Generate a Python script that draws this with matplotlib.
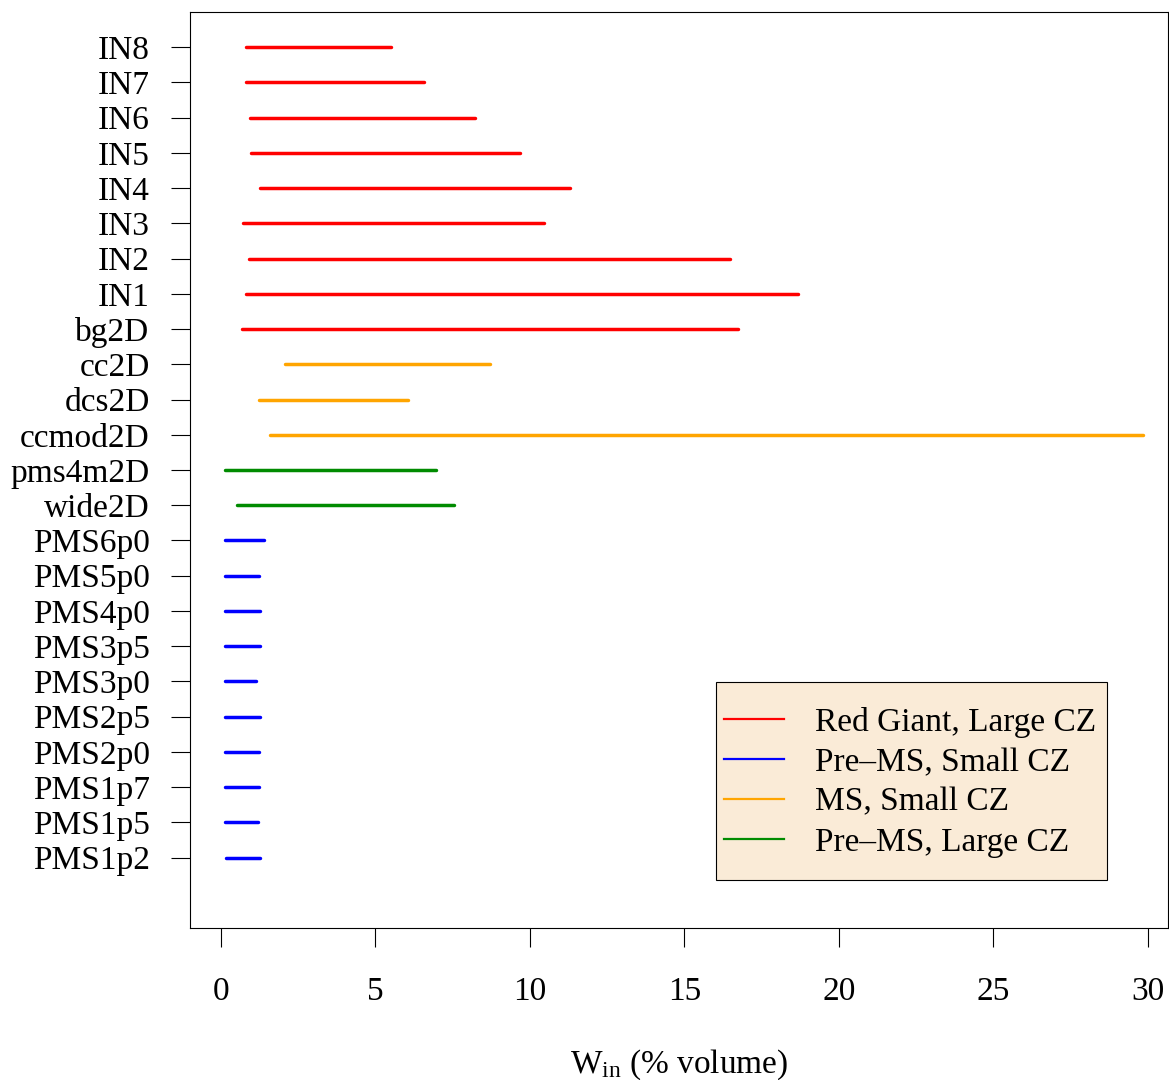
import matplotlib
matplotlib.use("Agg")
import matplotlib.pyplot as plt
from matplotlib.lines import Line2D
from matplotlib.patches import Rectangle

plt.rcParams["font.family"] = ["Liberation Serif", "DejaVu Serif"]
plt.rcParams["mathtext.fontset"] = "custom"
plt.rcParams["mathtext.rm"] = "Liberation Serif"
plt.rcParams["mathtext.it"] = "Liberation Serif:italic"

# Simulation names, listed top to bottom
runs = ["IN8", "IN7", "IN6", "IN5", "IN4", "IN3", "IN2", "IN1", "bg2D",
        "cc2D", "dcs2D", "ccmod2D", "pms4m2D", "wide2D",
        "PMS6p0", "PMS5p0", "PMS4p0", "PMS3p5", "PMS3p0", "PMS2p5",
        "PMS2p0", "PMS1p7", "PMS1p5", "PMS1p2"]

# Range of W_in (% volume) covered by each run
w_low = [0.80, 0.81, 0.94, 0.97, 1.26, 0.72, 0.91, 0.81, 0.68,
         2.08, 1.24, 1.60, 0.13, 0.52,
         0.13, 0.14, 0.12, 0.12, 0.13, 0.12, 0.13, 0.13, 0.14, 0.15]
w_high = [5.50, 6.56, 8.22, 9.68, 11.29, 10.44, 16.47, 18.66, 16.72,
          8.72, 6.07, 29.85, 6.97, 7.53,
          1.40, 1.24, 1.27, 1.27, 1.14, 1.27, 1.22, 1.23, 1.20, 1.25]

# Class of each run
run_class = ["rg"] * 9 + ["ms"] * 3 + ["pl"] * 2 + ["ps"] * 10

class_labels = {"rg": "Red Giant, Large CZ",
                "ps": "Pre\u2013MS, Small CZ",
                "ms": "MS, Small CZ",
                "pl": "Pre\u2013MS, Large CZ"}
class_colors = {"rg": "#FF0000", "ps": "#0000FF",
                "ms": "#FFA500", "pl": "#008B00"}
legend_order = ["rg", "ps", "ms", "pl"]

FS = 24
W, H, DPI = 1169, 1080, 100
fig = plt.figure(figsize=(W / DPI, H / DPI), dpi=DPI)
ax = fig.add_axes([190 / W, 1 - 928 / H, (1168 - 190) / W, (928 - 12) / H])

n = len(runs)
ypos = [n - i for i in range(n)]
for y, lo, hi, c in zip(ypos, w_low, w_high, run_class):
    ax.plot([lo, hi], [y, y], color=class_colors[c], lw=2.5,
            solid_capstyle="round")

ax.set_xlim(-1.0, 30.65)
ax.set_ylim(-1.0, 25.0)
ax.set_xticks([0, 5, 10, 15, 20, 25, 30])
ax.set_yticks(ypos)
ax.set_yticklabels(runs)
ax.tick_params(axis="y", length=14, width=0.8, pad=15, labelsize=FS)
ax.tick_params(axis="x", length=14, width=0.8, pad=21, labelsize=FS)
for s in ax.spines.values():
    s.set_linewidth(0.8)

ax.set_xlabel(r"W$_{\mathrm{in}}$ (% volume)", fontsize=FS, labelpad=29)

# Legend box, then the legend entries on top of it
box = Rectangle((716 / W, 1 - 880 / H), (1107 - 716) / W, (880 - 682) / H,
                transform=fig.transFigure, facecolor="#FAEBD7",
                edgecolor="black", linewidth=0.8, zorder=4)
ax.add_patch(box)

handles = [Line2D([0], [0], color=class_colors[k], lw=1.6) for k in legend_order]
leg = ax.legend(handles, [class_labels[k] for k in legend_order],
                loc="upper left",
                bbox_to_anchor=(724 / W, 1 - 707 / H),
                bbox_transform=fig.transFigure,
                fontsize=FS, frameon=False,
                handlelength=1.8, handletextpad=0.93, labelspacing=0.28,
                borderpad=0, borderaxespad=0)
leg.set_zorder(5)

fig.savefig("out.png", dpi=DPI)
